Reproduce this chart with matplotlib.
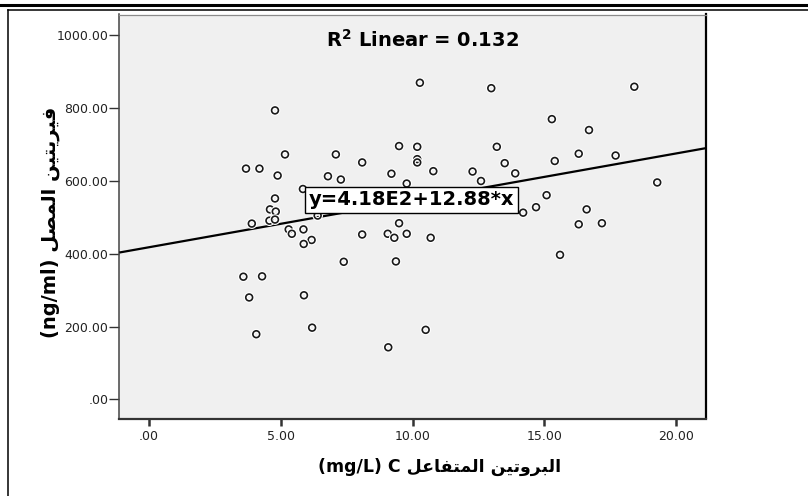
import numpy as np
import matplotlib
matplotlib.use('Agg')
import matplotlib.pyplot as plt
import matplotlib.patheffects as pe
from matplotlib.lines import Line2D
from matplotlib.ticker import FixedLocator, FuncFormatter

# ---------------- data ----------------
crp = [10.28, 4.78, 9.49, 10.18, 5.16, 7.09, 8.09, 10.18, 10.18, 3.68,
       4.19, 4.88, 6.79, 7.28, 9.20, 9.78, 5.84, 4.78, 4.59, 4.81,
       4.57, 4.78, 3.90, 5.30, 5.86, 5.42, 6.17, 8.09, 9.06, 9.31,
       9.78, 9.49, 12.99, 18.42, 15.29, 16.70, 13.20, 10.79, 12.28, 13.50,
       13.90, 15.40, 16.31, 17.71, 12.60, 19.29, 15.09, 14.69, 14.20, 16.61,
       16.31, 17.19, 10.69, 15.60, 10.50, 5.87, 7.39, 9.37, 3.58, 4.29,
       3.80, 5.88, 6.19, 4.07, 9.08, 6.40]
ferritin = [870, 794, 696, 694, 673, 673, 651, 660, 651, 634,
            634, 615, 613, 604, 620, 593, 578, 552, 522, 516,
            491, 494, 483, 467, 467, 455, 438, 453, 455, 444,
            455, 484, 855, 859, 770, 740, 694, 627, 626, 649,
            621, 655, 675, 670, 600, 596, 561, 528, 513, 522,
            481, 484, 444, 397, 191, 427, 378, 379, 337, 338,
            280, 286, 197, 179, 143, 505]
intercept = 418.0
slope = 12.88
r_squared = 0.132
x_ticks = [0, 5, 10, 15, 20]
y_ticks = [0, 200, 400, 600, 800, 1000]
x_label_ar = 'البروتين المتفاعل'
x_label_unit = '(mg/L) C'
y_label_ar = 'فيريتين المصل'
y_label_unit = '(ng/ml)'

# ---------------- minimal Arabic shaping (presentation forms) ----------------
AR_FORMS = {
    'ا': ('\uFE8D', '\uFE8E', None, None),
    'ل': ('\uFEDD', '\uFEDE', '\uFEDF', '\uFEE0'),
    'ب': ('\uFE8F', '\uFE90', '\uFE91', '\uFE92'),
    'ر': ('\uFEAD', '\uFEAE', None, None),
    'و': ('\uFEED', '\uFEEE', None, None),
    'ت': ('\uFE95', '\uFE96', '\uFE97', '\uFE98'),
    'ي': ('\uFEF1', '\uFEF2', '\uFEF3', '\uFEF4'),
    'ن': ('\uFEE5', '\uFEE6', '\uFEE7', '\uFEE8'),
    'م': ('\uFEE1', '\uFEE2', '\uFEE3', '\uFEE4'),
    'ف': ('\uFED1', '\uFED2', '\uFED3', '\uFED4'),
    'ع': ('\uFEC9', '\uFECA', '\uFECB', '\uFECC'),
    'ص': ('\uFEB9', '\uFEBA', '\uFEBB', '\uFEBC'),
}


def shape_word(w):
    out = []
    n = len(w)
    for i, c in enumerate(w):
        iso, fin, ini, med = AR_FORMS[c]
        prev_joins = i > 0 and AR_FORMS[w[i - 1]][2] is not None
        join_next = ini is not None and i < n - 1
        if prev_joins and join_next:
            f = med
        elif prev_joins:
            f = fin
        elif join_next:
            f = ini
        else:
            f = iso
        out.append(f)
    return ''.join(reversed(out))


def visual_ar(phrase):
    return ' '.join(shape_word(w) for w in reversed(phrase.split()))


# ---------------- figure ----------------
W, H = 808, 496
fig = plt.figure(figsize=(W / 100, H / 100), dpi=100)
fig.patch.set_facecolor('white')

left, right, bottom, top = 119.3, 705.7, 418.5, 14.5
ax = fig.add_axes([left / W, 1 - bottom / H, (right - left) / W, (bottom - top) / H])
ax.set_facecolor('#f0f0f0')
ax.set_xlim(-1.13, 21.13)
ax.set_ylim(-52.6, 1057.5)

# regression line across the full x range
xs = np.array(ax.get_xlim())
ax.plot(xs, intercept + slope * xs, color='black', lw=1.6, zorder=3,
        solid_capstyle='butt')

# points
ax.scatter(crp, ferritin, s=24, facecolors='none', edgecolors='#1a1a1a',
           linewidths=1.2, zorder=4,
           path_effects=[pe.withStroke(linewidth=2.8, foreground='white')])

# spines
ax.spines['left'].set_color('#444444')
ax.spines['left'].set_linewidth(1.1)
ax.spines['bottom'].set_color('#333333')
ax.spines['bottom'].set_linewidth(1.6)
ax.spines['top'].set_color('#8a8a8a')
ax.spines['top'].set_linewidth(0.9)
ax.spines['right'].set_color('black')
ax.spines['right'].set_linewidth(1.6)


def fmt(v, pos=None):
    s = f'{v:.2f}'
    if s.startswith('0.'):
        s = s[1:]
    return s


ax.xaxis.set_major_locator(FixedLocator(x_ticks))
ax.yaxis.set_major_locator(FixedLocator(y_ticks))
ax.xaxis.set_major_formatter(FuncFormatter(fmt))
ax.yaxis.set_major_formatter(FuncFormatter(fmt))
ax.tick_params(axis='y', direction='out', length=7, width=1.0, color='#333333',
               pad=1, labelsize=9, labelcolor='#222222')
ax.tick_params(axis='x', direction='out', length=5, width=1.8, color='#333333',
               pad=3, labelsize=9, labelcolor='#222222')
for lab in ax.get_xticklabels() + ax.get_yticklabels():
    lab.set_family('DejaVu Sans')

# R^2 annotation
fig.text(422 / W, 1 - 40 / H, r'$\mathbf{R^2}$ Linear = ' + f'{r_squared:.3f}',
         ha='center', va='center', fontsize=14, fontweight='bold',
         family='DejaVu Sans', color='black')

# equation box
ax.text(0.4987, 0.5416, f'y={intercept / 100:.2f}E2+{slope:.2f}*x',
        transform=ax.transAxes, ha='center', va='center', fontsize=14,
        fontweight='bold', family='DejaVu Sans', zorder=6,
        bbox=dict(boxstyle='square,pad=0.18', fc='white', ec='black', lw=1.0))

# axis labels (Arabic shaped manually, visual order)
xlabel = x_label_unit + ' ' + visual_ar(x_label_ar)
ylabel = y_label_unit + ' ' + visual_ar(y_label_ar)
fig.text(440 / W, 1 - 467 / H, xlabel, ha='center', va='center', fontsize=12.5,
         fontweight='bold', family=['DejaVu Sans'])
fig.text(50 / W, 1 - 222 / H, ylabel, ha='center', va='center', fontsize=14,
         fontweight='bold', family=['DejaVu Sans'], rotation=90)

# outer frame lines
fig.add_artist(Line2D([0, 1], [1 - 5.3 / H] * 2, lw=2.2, color='black',
                      transform=fig.transFigure))
fig.add_artist(Line2D([8 / W, 1], [1 - 10 / H] * 2, lw=1.1, color='black',
                      transform=fig.transFigure))
fig.add_artist(Line2D([8 / W, 8 / W], [0, 1 - 10 / H], lw=1.1, color='black',
                      transform=fig.transFigure))

fig.savefig('out.png', dpi=100, facecolor='white')
